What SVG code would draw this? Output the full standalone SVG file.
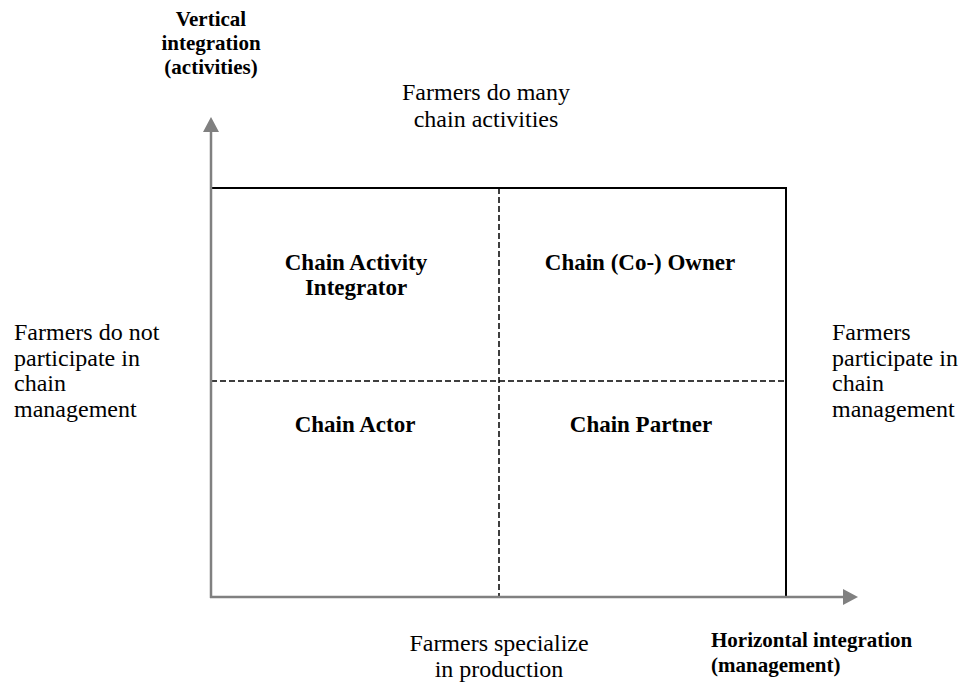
<svg xmlns="http://www.w3.org/2000/svg" width="959" height="683" viewBox="0 0 959 683">
  <style>
    .reg { font-family: "Liberation Serif", "Times New Roman", serif; font-size: 24px; fill: #000; }
    .cell { font-family: "Liberation Serif", "Times New Roman", serif; font-size: 23px; font-weight: bold; fill: #000; text-anchor: middle; }
    .axislbl { font-family: "Liberation Serif", "Times New Roman", serif; font-size: 21px; font-weight: bold; fill: #000; }
    .frame { stroke: #000; stroke-width: 2; fill: none; }
    .divider { stroke: #000; stroke-width: 1.5; stroke-dasharray: 6 3; fill: none; }
    .axis { stroke: #808080; stroke-width: 2.5; fill: none; }
    .head { fill: #808080; }
  </style>

  <rect width="959" height="683" fill="#fff"/>

  <!-- matrix frame and quadrant dividers -->
  <g id="matrix">
    <polyline class="frame" points="211,188 786,188 786,597"/>
    <line class="divider" x1="499" y1="188" x2="499" y2="597"/>
    <line class="divider" x1="211" y1="381" x2="786" y2="381"/>
  </g>

  <!-- axes with arrowheads -->
  <g id="connectors">
    <line class="axis" x1="211" y1="598" x2="211" y2="132"/>
    <polygon class="head" points="211,117 203,132 219,132"/>
    <line class="axis" x1="210" y1="597" x2="843" y2="597"/>
    <polygon class="head" points="858,597 843,589 843,605"/>
  </g>

  <g id="axis-vertical">
    <text class="axislbl" text-anchor="middle" x="211" y="26">Vertical</text>
    <text class="axislbl" text-anchor="middle" x="211" y="50">integration</text>
    <text class="axislbl" text-anchor="middle" x="211" y="74">(activities)</text>
  </g>

  <g id="axis-horizontal">
    <text class="axislbl" x="711" y="647">Horizontal integration</text>
    <text class="axislbl" x="711" y="672">(management)</text>
  </g>

  <g id="label-top">
    <text class="reg" text-anchor="middle" x="486" y="100">Farmers do many</text>
    <text class="reg" text-anchor="middle" x="486" y="127">chain activities</text>
  </g>

  <g id="label-bottom">
    <text class="reg" text-anchor="middle" x="499" y="651">Farmers specialize</text>
    <text class="reg" text-anchor="middle" x="499" y="677">in production</text>
  </g>

  <g id="label-left">
    <text class="reg" x="14" y="340">Farmers do not</text>
    <text class="reg" x="14" y="366">participate in</text>
    <text class="reg" x="14" y="391">chain</text>
    <text class="reg" x="14" y="417">management</text>
  </g>

  <g id="label-right">
    <text class="reg" x="832" y="340">Farmers</text>
    <text class="reg" x="832" y="366">participate in</text>
    <text class="reg" x="832" y="391">chain</text>
    <text class="reg" x="832" y="417">management</text>
  </g>

  <g id="chain-activity-integrator">
    <text class="cell" x="356" y="270">Chain Activity</text>
    <text class="cell" x="356" y="295">Integrator</text>
  </g>

  <g id="chain-co-owner">
    <text class="cell" x="640" y="270">Chain (Co-) Owner</text>
  </g>

  <g id="chain-actor">
    <text class="cell" x="355" y="432">Chain Actor</text>
  </g>

  <g id="chain-partner">
    <text class="cell" x="641" y="432">Chain Partner</text>
  </g>
</svg>
